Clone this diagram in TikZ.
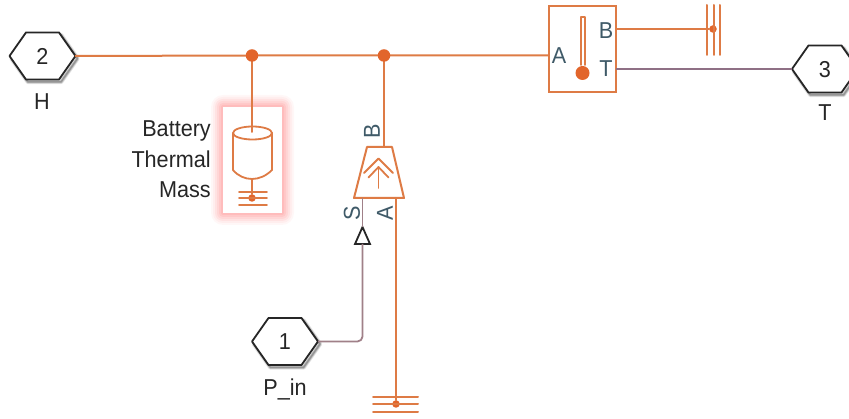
\documentclass[tikz,border=0pt]{standalone}
\usepackage{fontspec}
\setmainfont[FakeStretch=0.94]{Liberation Sans}
\usetikzlibrary{calc}
\definecolor{wireO}{HTML}{DE7B45}
\definecolor{dotO}{HTML}{E2652B}
\definecolor{portT}{HTML}{3F5A68}
\definecolor{sigW}{HTML}{A08088}
\definecolor{sigT}{HTML}{8F7085}
\definecolor{inkD}{HTML}{262626}
\tikzset{
  x=1pt,y=-1pt,
  phys/.style={draw=wireO,line width=2pt,line cap=round,line join=round},
  physthin/.style={draw=wireO,line width=1.8pt,line cap=round,line join=round},
  sig/.style={draw=sigW,line width=1.8pt,line join=round},
  dotbig/.style={circle,fill=dotO,inner sep=0pt,minimum size=12.5pt},
  dotsmall/.style={circle,fill=dotO,inner sep=0pt,minimum size=7.5pt},
  lab/.style={font=\fontsize{23}{23}\selectfont,text=inkD,inner sep=0pt},
  portlab/.style={font=\fontsize{23}{23}\selectfont,text=portT,inner sep=0pt},
  hexline/.style={draw=inkD,line width=1.8pt,line join=round,fill=white},
}
\newcommand{\hexport}[4]{%
  \coordinate (#1-w) at (#2-33,#3);
  \coordinate (#1-e) at (#2+33,#3);
  \foreach \s/\o in {4.5/.10,3/.16,1.5/.22}{
    \draw[black,opacity=\o,line width=\s pt,line join=round,shift={(2,2.5)}]
      (#2-33,#3) -- (#2-16.5,#3-23.5) -- (#2+16.5,#3-23.5) -- (#2+33,#3) -- (#2+16.5,#3+23.5) -- (#2-16.5,#3+23.5) -- cycle;
  }
  \draw[hexline] (#1-w) -- (#2-16.5,#3-23.5) -- (#2+16.5,#3-23.5) -- (#1-e) -- (#2+16.5,#3+23.5) -- (#2-16.5,#3+23.5) -- cycle;
  \node[lab] (#1-num) at (#2,#3+0.5) {#4};
}
\begin{document}
\begin{tikzpicture}
\useasboundingbox (0,0) rectangle (849,419);
\clip (0,0) rectangle (849,419);
\fill[white] (0,0) rectangle (849,419);

% glow around selected block
\foreach \g/\o in {12/.04,10/.05,8/.07,6/.08,4/.09,2/.10}{
  \fill[red!70!white,opacity=\o,rounded corners=\g pt] (223-\g,107-\g) rectangle (282+\g,213+\g);
}
\fill[white] (223,107) rectangle (282,213);

% ports
\hexport{hexH}{42.5}{56}{2}
\hexport{hexT}{825}{69}{3}
\hexport{hexP}{285}{341.5}{1}
\node[lab] (labH) at (42,102) {H};
\node[lab] (labT) at (825,113) {T};
\node[lab,anchor=base] (labP) at (285,396) {P\_in};

% junctions and ends
\coordinate (jA) at (252,55.5);
\coordinate (jB) at (384,55.5);

% thermometer sensor
\node[draw=wireO,line width=2pt,minimum width=67pt,minimum height=86pt,inner sep=0pt] (sensor) at (582.5,49) {};
\coordinate (sensA) at (sensor.west |- jA);
\coordinate (sensB) at (616,29);
\coordinate (sensT) at (616,69);
\draw[phys] (580.5,65) -- (580.5,17.5) -- (585,17.5) -- (585,65);
\node[circle,fill=dotO,inner sep=0pt,minimum size=14pt] (bulb) at (582.5,73) {};
\node[portlab] (pA) at (559,55.5) {A};
\node[portlab] (pB) at (606,31) {B};
\node[portlab] (pT) at (606,68.5) {T};

% right thermal reference
\node[dotsmall] (refR) at (713,29) {};
\draw[phys] (707,5) -- (707,55) (713.5,5) -- (713.5,55) (720,5) -- (720,55);

% mass block
\coordinate (massTop) at (252,132);
\draw[physthin] (233,133) arc[start angle=180,end angle=540,x radius=19.5pt,y radius=6.5pt];
\draw[physthin] (233,133) -- (233,170) .. controls (238,176) and (245,179) .. (252,179) .. controls (259,179) and (266,176) .. (272,170) -- (272,133);
\coordinate (massBot) at (252,179);
\node[dotsmall] (refM) at (252,198) {};
\draw[physthin] (239,192) -- (267,192) (239,198) -- (267,198) (239,205) -- (267,205);

% flow source
\coordinate (srcB) at (384,147);
\coordinate (srcS) at (362.5,198);
\coordinate (srcA) at (396,198);
\draw[phys] (367,147) -- (392,147) -- (404,198) -- (354,198) -- cycle;
\draw[physthin] (364,173) -- (378.5,158.5) -- (393,173);
\draw[physthin] (368.5,177.5) -- (378.5,167) -- (388.5,177.5);
\draw[physthin] (378.5,167) -- (378.5,188);
\node[portlab,rotate=90] (pS1) at (352,213) {S};
\node[portlab,rotate=90] (pA1) at (385,213) {A};
\node[portlab,rotate=90] (pB1) at (372,131) {B};

% lower thermal reference
\node[dotsmall] (refB) at (396,404) {};
\draw[phys] (373,397) -- (418,397) (373,404) -- (418,404) (373,412) -- (418,412);

% signal input triangle
\coordinate (triTop) at (362.5,227);
\coordinate (triBot) at (362.5,244);
\draw[draw=inkD,line width=1.8pt,line join=miter] (triTop) -- (370,244) -- (355,244) -- cycle;

% wires
\draw[phys] (hexH-e) -- (jA) -- (jB) -- (sensA);
\draw[phys] (jA) -- (massTop);
\draw[physthin] (massBot) -- (refM);
\draw[phys] (jB) -- (srcB);
\draw[phys] (srcA) -- (refB);
\draw[phys] (sensB) -- (refR);
\draw[sig] (srcS) -- (triTop);
\draw[sig,rounded corners=5pt] (hexP-e) -- (362.5,341.5) -- (triBot);
\draw[sig,draw=sigT] (sensT) -- (hexT-w);
\node[dotbig] (dotA) at (jA) {};
\node[dotbig] (dotB) at (jB) {};

% block name
\node[lab,anchor=base east] (massL1) at (211,137) {Battery};
\node[lab,anchor=base east] (massL2) at (211,168) {Thermal};
\node[lab,anchor=base east] (massL3) at (211,198) {Mass};
\end{tikzpicture}
\end{document}
